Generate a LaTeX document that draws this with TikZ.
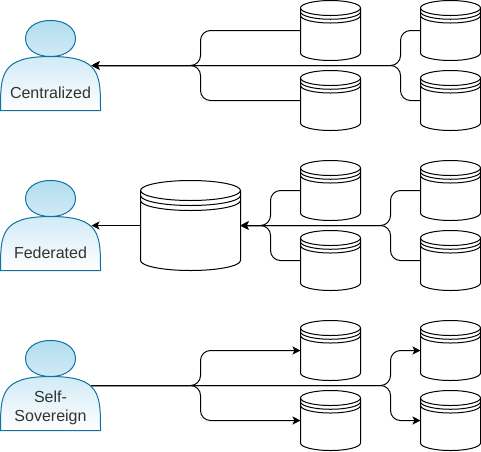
\documentclass[tikz,border=0pt]{standalone}
\usepackage{fontspec}
\setmainfont{Liberation Sans}
\usepackage{xcolor}
\usetikzlibrary{arrows.meta,positioning,calc}
\definecolor{actorline}{HTML}{10739E}
\definecolor{actorfill}{HTML}{B1DDF0}
\definecolor{actortext}{HTML}{333333}
\tikzset{
	dbline/.style={draw=black, fill=white, line width=1pt},
	dbbox/.style={inner sep=0pt, outer sep=0pt},
	link/.style={draw=black, line width=1pt, rounded corners=10pt},
	actorbody/.style={draw=actorline, line width=1pt, top color=actorfill, bottom color=white},
	actorlabel/.style={inner sep=0pt, outer sep=0pt, align=center, text=actortext, font=\fontsize{16}{19}\selectfont, anchor=south}
}
% name, left, top, width, height, cap
\newcommand{\dbstack}[6]{
	\begin{scope}[shift={(#2,#3)}]
		\draw[dbline] (0,#6) arc[start angle=180, end angle=360, x radius=#4/2, y radius=#6]
			-- (#4,#5-#6) arc[start angle=0, end angle=180, x radius=#4/2, y radius=#6] -- cycle;
		\foreach \capstep in {1,1.5,2} {
			\draw[dbline, fill=none] (0,#6*\capstep) arc[start angle=180, end angle=0, x radius=#4/2, y radius=#6];
		}
	\end{scope}
	\node[dbbox, anchor=north west, minimum width=#4pt, minimum height=#5pt] (#1) at (#2,#3) {};
}
% name, top, label bottom, label
\newcommand{\actorshape}[4]{
	\begin{scope}[shift={(0,#2)}]
		\draw[actorbody] (0,90) .. controls (0,54) and (0,36) .. (50,36)
			.. controls (16.67,36) and (16.67,0) .. (50,0)
			.. controls (83.33,0) and (83.33,36) .. (50,36)
			.. controls (100,36) and (100,54) .. (100,90) -- cycle;
	\end{scope}
	\node[actorlabel] (#1) at (50,#2+#3) {#4};
}

\begin{document}
\begin{tikzpicture}[x=1pt, y=-1pt, >={Stealth[length=8pt, width=8pt, inset=2pt]}]
	\useasboundingbox (-0.5,-0.5) rectangle (480.5,450.5);

	% Centralized
	\actorshape{userA}{20}{78}{Centralized}
	\dbstack{dbAa}{300}{0}{60}{60}{7.5}
	\dbstack{dbAb}{300}{70}{60}{60}{7.5}
	\dbstack{dbAc}{420}{0}{60}{60}{7.5}
	\dbstack{dbAd}{420}{70}{60}{60}{7.5}
	\coordinate (portA) at (91,65);
	\coordinate (forkAa) at (200,65);
	\coordinate (forkAb) at (400,65);
	\draw[link, ->] (dbAa.west) -| (forkAa) -- (portA);
	\draw[link, ->] (dbAb.west) -| (forkAa) -- (portA);
	\draw[link, ->] (dbAc.west) -| (forkAb) -- (portA);
	\draw[link, ->] (dbAd.west) -| (forkAb) -- (portA);

	% Federated
	\actorshape{userB}{180}{78}{Federated}
	\dbstack{hubB}{140}{180}{100}{90}{10}
	\dbstack{dbBa}{300}{160}{60}{60}{7.5}
	\dbstack{dbBb}{300}{230}{60}{60}{7.5}
	\dbstack{dbBc}{420}{160}{60}{60}{7.5}
	\dbstack{dbBd}{420}{230}{60}{60}{7.5}
	\coordinate (portB) at (91,225);
	\coordinate (forkBa) at (270,225);
	\coordinate (forkBb) at (390,225);
	\draw[link, ->] (hubB.west) -- (portB);
	\draw[link, ->] (dbBa.west) -| (forkBa) -- (hubB.east);
	\draw[link, ->] (dbBb.west) -| (forkBa) -- (hubB.east);
	\draw[link, ->] (dbBc.west) -| (forkBb) -- (hubB.east);
	\draw[link, ->] (dbBd.west) -| (forkBb) -- (hubB.east);

	% Self-Sovereign
	\actorshape{userC}{340}{84}{Self-\\Sovereign}
	\dbstack{dbCa}{300}{320}{60}{60}{7.5}
	\dbstack{dbCb}{300}{390}{60}{60}{7.5}
	\dbstack{dbCc}{420}{320}{60}{60}{7.5}
	\dbstack{dbCd}{420}{390}{60}{60}{7.5}
	\coordinate (portC) at (91,385);
	\coordinate (forkCa) at (200,385);
	\coordinate (forkCb) at (390,385);
	\draw[link, ->] (portC) -- (forkCa) |- (dbCa.west);
	\draw[link, ->] (portC) -- (forkCa) |- (dbCb.west);
	\draw[link, ->] (portC) -- (forkCb) |- (dbCc.west);
	\draw[link, ->] (portC) -- (forkCb) |- (dbCd.west);
\end{tikzpicture}
\end{document}
